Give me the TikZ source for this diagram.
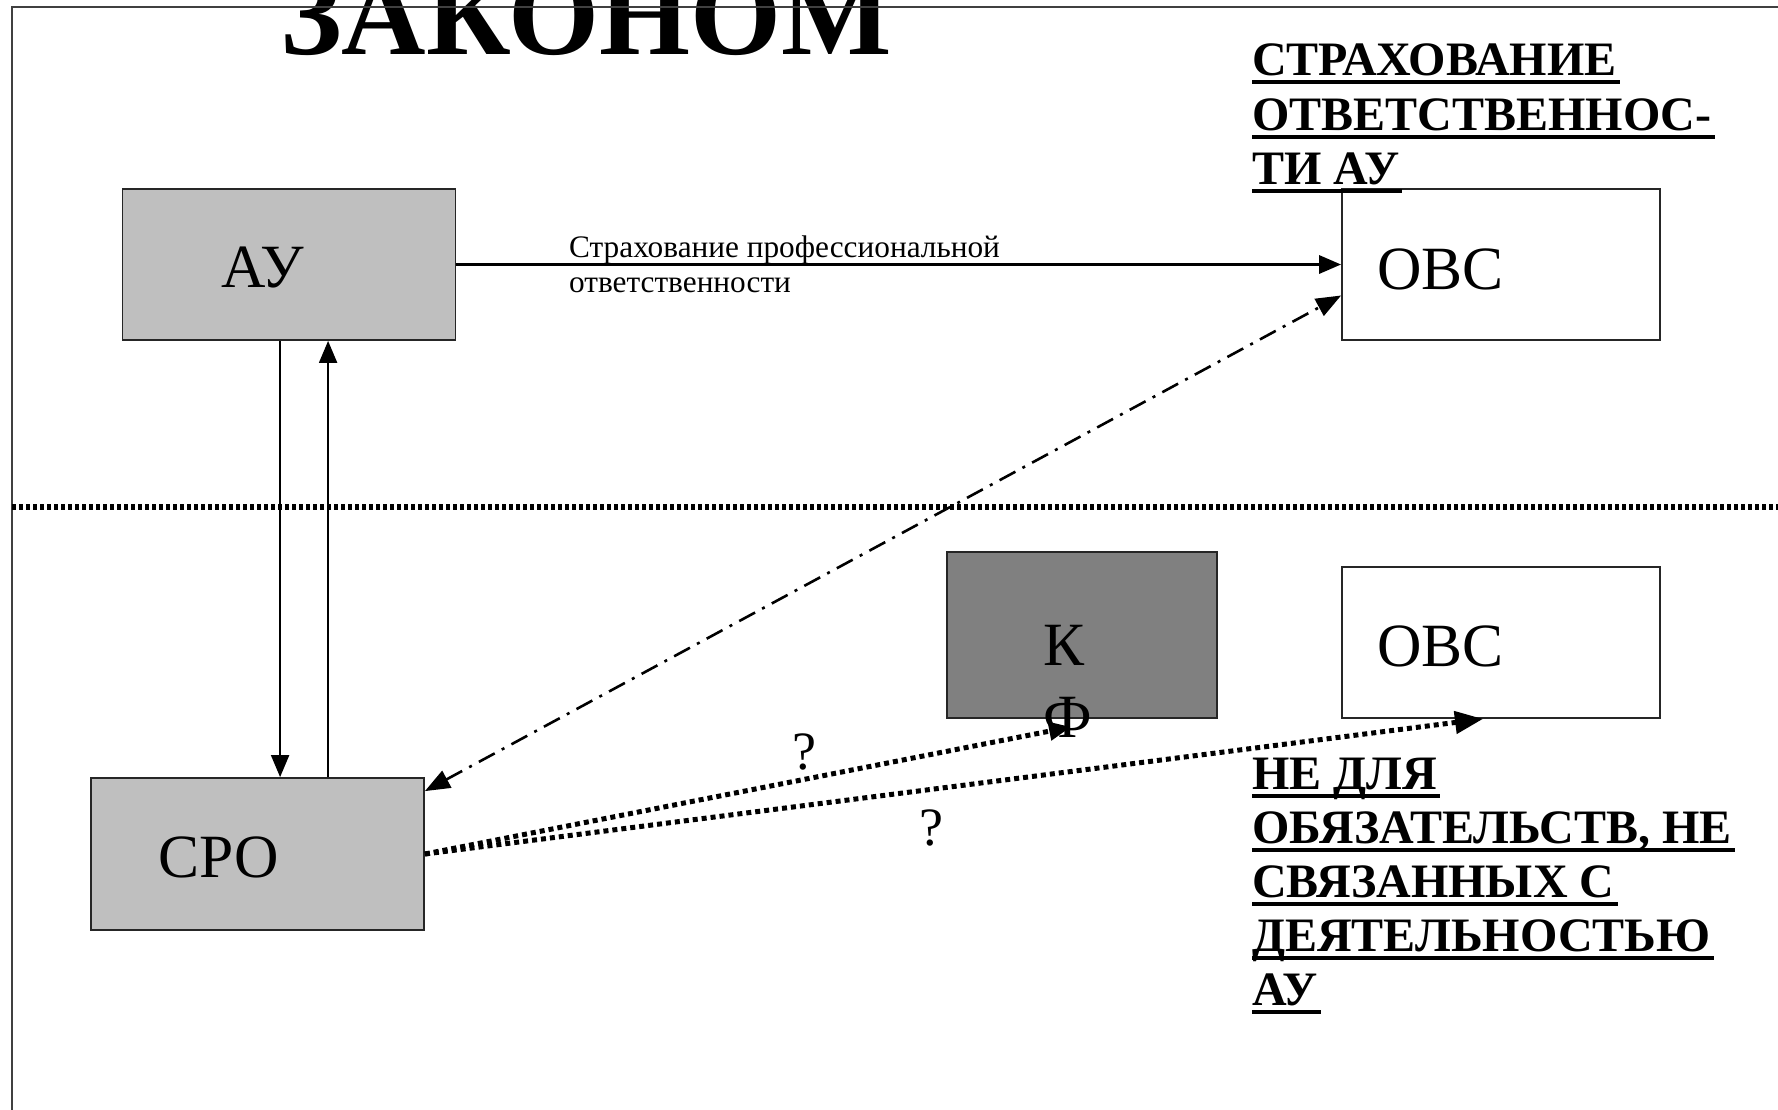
\documentclass[tikz,border=0pt]{standalone}
\usepackage{fontspec}
\setmainfont{Liberation Serif}
\usetikzlibrary{arrows.meta,calc}

\begin{document}
\begin{tikzpicture}[x=1pt,y=-1pt,
  box/.style={draw=black!85, line width=1.8pt, inner sep=0pt},
  lbl/.style={inner sep=0pt, anchor=base west, font=\fontsize{61.5}{70}\selectfont},
  small/.style={inner sep=0pt, anchor=base west, font=\fontsize{31.3}{35}\selectfont},
  hd/.style={inner sep=0pt, anchor=base west, font=\fontsize{48}{54}\selectfont\bfseries},
  qm/.style={inner sep=0pt, font=\fontsize{54}{54}\selectfont},
  ul/.style={line width=4.5pt},
  tipA/.style={-{Triangle[length=22pt,width=18pt]}},
  tipC/.style={-{Triangle[length=28pt,width=22pt]}},
  tipB/.style={{Triangle[length=25pt,width=19pt]}-{Triangle[length=25pt,width=19pt]}},
  dots/.style={line width=5pt, dash pattern=on 5pt off 4pt},
  sepline/.style={line width=5.5pt, dash pattern=on 3.5pt off 3.5pt},
  dashdot/.style={line width=2.6pt, dash pattern=on 18pt off 8pt on 3pt off 8pt}]
\useasboundingbox (0,0) rectangle (1778,1109);
\fill[white] (0,0) rectangle (1778,1109);

% title, partly above the page
\node[anchor=base, inner sep=0pt, font=\fontsize{117}{117}\selectfont\bfseries] (title) at (586,54) {ЗАКОНОМ};

% page frame
\draw[line width=2pt, black!75] (12,1130) -- (12,7) -- (1800,7);

% separator between the two levels
\draw[sepline] (12,507) -- (1778,507);

% boxes
\node[box, fill=black!25, minimum width=333pt, minimum height=151pt] (AU) at (289,264.5) {};
\node[box, fill=black!25, minimum width=333pt, minimum height=152pt] (SRO) at (257.5,854) {};
\node[box, fill=black!50, minimum width=270pt, minimum height=166pt] (KF) at (1082,635) {};
\node[box, fill=white, minimum width=318pt, minimum height=151pt] (OBCu) at (1501,264.5) {};
\node[box, fill=white, minimum width=318pt, minimum height=151pt] (OBCl) at (1501,642.5) {};

% box texts
\node[lbl] (tAU) at (221,287) {АУ};
\node[lbl] (tSRO) at (158,877) {СРО};
\node[lbl] (tOBCu) at (1377,289) {ОВС};
\node[lbl] (tOBCl) at (1377,666) {ОВС};
\node[lbl, anchor=base] (tK) at (1064,665) {К};
\node[lbl, anchor=base] (tF) at (1068,737) {Ф};

% insurance arrow
\draw[tipA, line width=3.2pt] (AU.east) -- (OBCu.west);
\node[small] (ins1) at (569,257) {Страхование профессиональной};
\node[small] (ins2) at (569,292) {ответственности};

% links between AU and SRO
\draw[tipA, line width=2pt] ([xshift=158.5pt]AU.south west) -- ([xshift=158.5pt]AU.south west |- SRO.north);
\draw[tipA, line width=2pt] ([xshift=206.5pt]AU.south west |- SRO.north) -- ([xshift=206.5pt]AU.south west);

% dash-dot link SRO <-> OBC
\draw[tipB, dashdot] ([yshift=-14pt]SRO.north east) -- ([yshift=-31pt]OBCu.west);

% dotted links with question marks
\draw[tipA, dots] (SRO.east) -- ([xshift=-11pt,yshift=-8pt]KF.south);
\draw[tipC, dots] (SRO.east) -- ([xshift=-18pt]OBCl.south);
\node[qm] (q1) at (804,752) {?};
\node[qm] (q2) at (931,828) {?};

% heading at the upper right
\node[hd] (h1) at (1252,75) {СТРАХОВАНИЕ};
\node[hd] (h2) at (1252,130) {ОТВЕТСТВЕННОС-};
\node[hd] (h3) at (1252,184) {ТИ АУ};
\foreach \n in {h1,h2,h3}
  \draw[ul] ([yshift=-7pt]\n.base west) -- ([xshift=3pt,yshift=-7pt]\n.base east);

% heading at the lower right
\node[hd] (b1) at (1252,789) {НЕ ДЛЯ};
\node[hd] (b2) at (1252,843) {ОБЯЗАТЕЛЬСТВ, НЕ};
\node[hd] (b3) at (1252,897) {СВЯЗАННЫХ С};
\node[hd] (b4) at (1252,951) {ДЕЯТЕЛЬНОСТЬЮ};
\node[hd] (b5) at (1252,1005) {АУ};
\foreach \n in {b1,b2,b3,b4,b5}
  \draw[ul] ([yshift=-7pt]\n.base west) -- ([xshift=3pt,yshift=-7pt]\n.base east);
\end{tikzpicture}
\end{document}
